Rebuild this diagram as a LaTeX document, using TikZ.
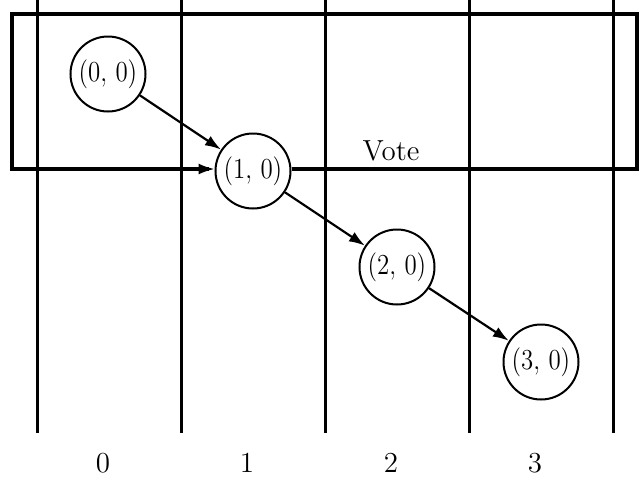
\RequirePackage{fix-cm}
\documentclass[tikz,border=0pt]{standalone}
\usepackage{graphicx}
\usetikzlibrary{arrows.meta}
\newcommand{\statelabel}[1]{\scalebox{0.86}[1]{$(#1,\,0)$}}
\begin{document}
\begin{tikzpicture}[x=0.5pt,y=-0.5pt,
  state/.style={circle,draw,line width=1pt,minimum size=37.5pt,inner sep=0pt,font=\fontsize{14.5}{17}\selectfont},
  lbl/.style={font=\fontsize{14.5}{17}\selectfont},
  col/.style={line width=1.5pt},
  box/.style={line width=2pt},
  arr/.style={line width=1.1pt,-{Latex[length=8pt,width=5.5pt]}}]
\useasboundingbox (0,0) rectangle (644,478);
% column lines
\foreach \x/\n in {37/c0,181/c1,325/c2,469/c3,613/c4}{
  \coordinate (\n t) at (\x,0);
  \coordinate (\n b) at (\x,433);
  \draw[col] (\n t) -- (\n b);
}
% states
\node[state] (s0) at (108,74) {\statelabel{0}};
\node[state] (s1) at (253,171) {\statelabel{1}};
\node[state] (s2) at (397,267) {\statelabel{2}};
\node[state] (s3) at (541,362) {\statelabel{3}};
% vote box
\coordinate (br) at (637,169);
\coordinate (tr) at (637,14);
\coordinate (tl) at (12,14);
\coordinate (bl) at (12,169);
\draw[box] (s1.east |- br) -- (br) -- (tr) -- (tl) -- (bl) -- ([xshift=-3pt]s1.west |- bl);
\draw[arr] (bl) -- (s1.west |- bl);
\node[lbl] (vote) at (391,151) {Vote};
% transitions
\draw[arr] (s0) -- (s1);
\draw[arr] (s1) -- (s2);
\draw[arr] (s2) -- (s3);
% column labels
\node[lbl] (l0) at (103,463) {0};
\node[lbl] (l1) at (247,463) {1};
\node[lbl] (l2) at (391,463) {2};
\node[lbl] (l3) at (535,463) {3};
\end{tikzpicture}
\end{document}
